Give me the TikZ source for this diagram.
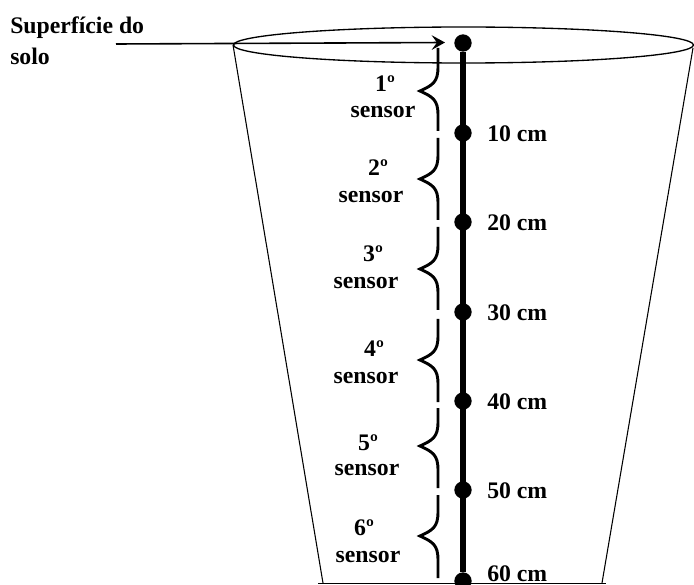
\documentclass[tikz,border=0pt]{standalone}
\usepackage{fontspec}
\setmainfont{Liberation Serif}
\usetikzlibrary{arrows.meta}
\tikzset{
  dot/.style={circle,fill=black,inner sep=0pt,minimum size=13pt},
  lab/.style={font=\fontsize{17.8}{20}\selectfont\bfseries,inner sep=0pt},
  sensorbrace/.style={line width=2.2pt}
}
\begin{document}
\begin{tikzpicture}[x=0.75pt,y=-0.75pt]
\useasboundingbox (0,0) rectangle (694,585);
\begin{scope}
\clip (0,0) rectangle (694,585);
% pot
\draw[line width=1pt] (463.5,45) ellipse (230 and 18);
\draw[line width=0.8pt] (233,45) -- (323,583);
\draw[line width=0.8pt] (693,48) -- (602,583);
\draw[line width=1.1pt] (318,583.6) -- (606,583.6);
% rod and depths
\node[dot] (d0) at (463,43) {};
\foreach \n/\y in {1/133,2/222,3/312,4/401,5/490,6/581} {
  \node[dot] (d\n) at (463,\y) {};
}
\draw[line width=4.9pt] (d0) -- (d6);
\end{scope}
\foreach \n/\y/\lab in {1/134/10,2/223/20,3/313/30,4/402/40,5/491/50,6/574/60} {
  \node[lab,anchor=west] (t\n) at (487,\y) {\lab\ cm};
}
% surface
\node[lab,anchor=west] (sup) at (10,28) {Superfície do};
\node[lab,anchor=west] (solo) at (10,56) {solo};
\coordinate (a0) at (116,44);
\coordinate (a1) at (445,42.5);
\draw[-{Stealth[length=10pt,width=11pt,inset=4pt]},line width=1.2pt] (a0) -- (a1);
% sensors
\foreach \n/\a/\t/\b/\px/\py/\qx/\qy in {
  1/48/91/131/385/84/383/112,
  2/138/179/220/378/168/371/197,
  3/227/269/310/373/254/366/283,
  4/319/360/402/374/349/366/378,
  5/408/446/488/368/443/367/470,
  6/495/536/578/364/528/368/557} {
  \coordinate (c\n) at (438,\a);
  \coordinate (e\n) at (420,\t);
  \coordinate (b\n) at (438,\b);
  \draw[sensorbrace] (c\n) -- (438,\t-24) .. controls (438,\t-9) and (433,\t-6) .. (e\n)
    .. controls (433,\t+6) and (438,\t+9) .. (438,\t+24) -- (b\n);
  \node[lab] (o\n) at (\px,\py) {\n º};
  \node[lab] (s\n) at (\qx,\qy) {sensor};
}
\end{tikzpicture}
\end{document}
